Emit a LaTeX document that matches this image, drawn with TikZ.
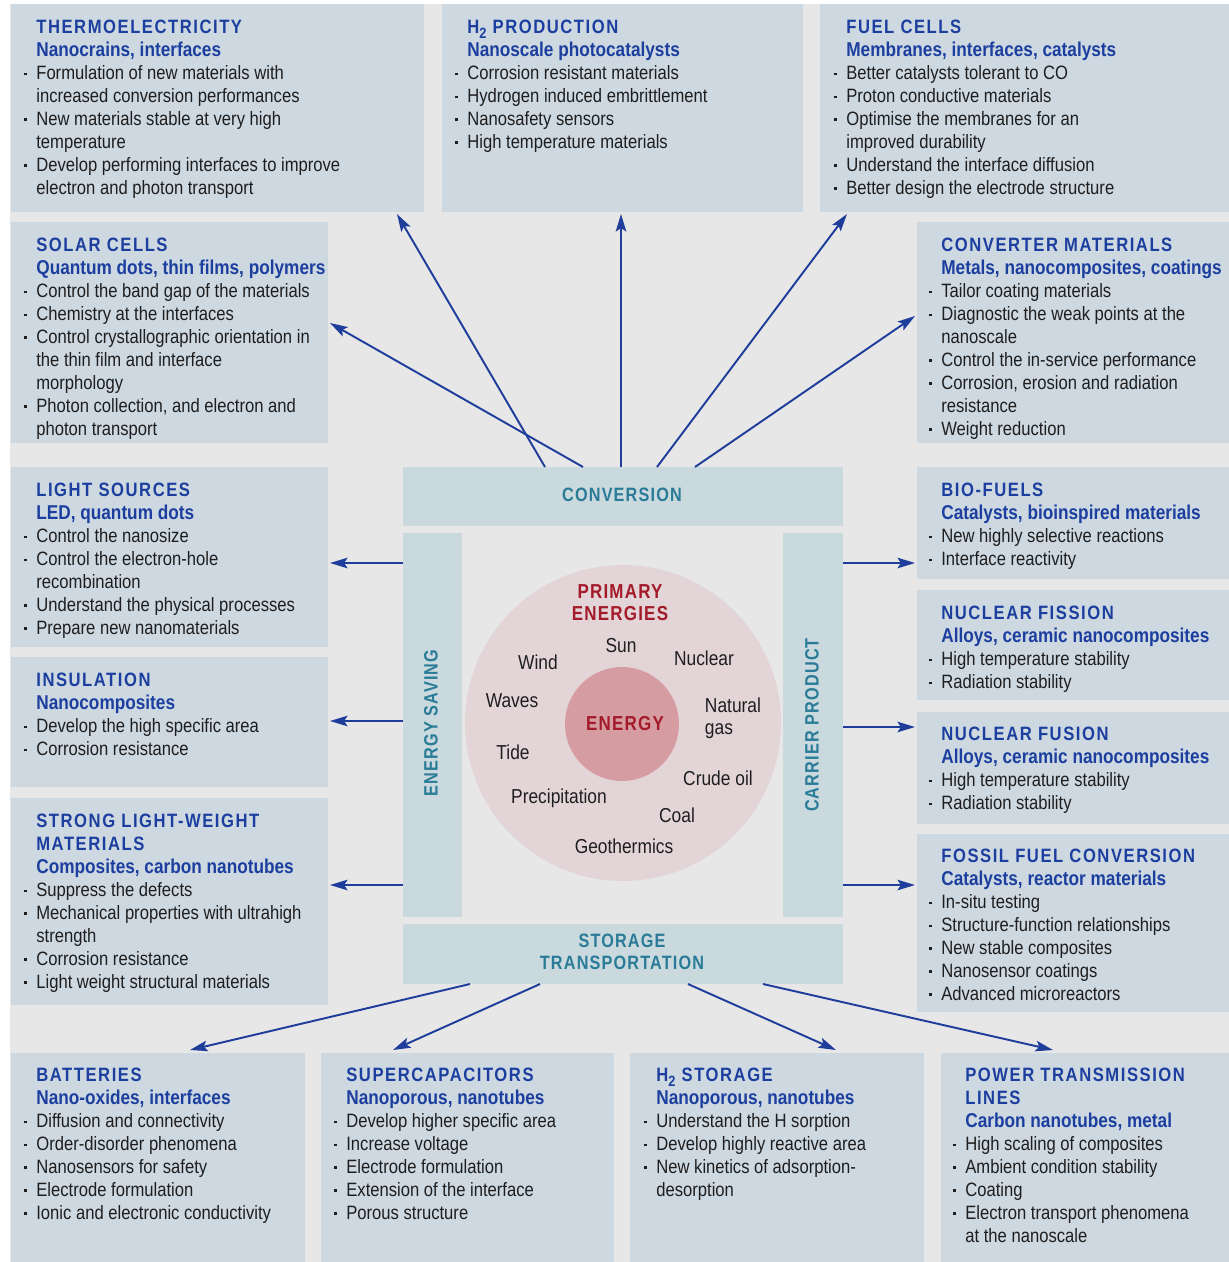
\documentclass[tikz,border=0pt]{standalone}
\usepackage{fontspec}
\setmainfont[FakeStretch=0.86]{Liberation Sans}
\newfontfamily\capsfont[FakeStretch=0.86,LetterSpace=8]{Liberation Sans}
\newfontfamily\bandfont[FakeStretch=0.84,LetterSpace=6]{Liberation Sans}
\usetikzlibrary{arrows.meta}

\definecolor{panelgray}{HTML}{E7E7E7}
\definecolor{boxblue}{HTML}{CDD8E1}
\definecolor{barteal}{HTML}{C9D9DD}
\definecolor{titleblue}{HTML}{1C3F9F}
\definecolor{barink}{HTML}{2A7B98}
\definecolor{ringpink}{HTML}{E3D5D7}
\definecolor{corepink}{HTML}{D59CA1}
\definecolor{energyred}{HTML}{A31A2A}
\definecolor{arrowblue}{HTML}{1F3D9B}
\definecolor{bodyink}{HTML}{1E1E1E}

% headings, sub-headings and bullets of the panels
\newcommand{\ttl}[1]{{\capsfont\bfseries\color{titleblue}#1}}
\newcommand{\subttl}[1]{{\fontsize{11.4}{13.04}\selectfont\bfseries\color{titleblue}#1}}
\newcommand{\bul}{\llap{\raisebox{2.4pt}{\rule{1.6pt}{1.6pt}}\hspace{5.6pt}}}
\newcommand{\lowtwo}{\raisebox{-2.6pt}{\fontsize{8.5}{8.5}\selectfont 2}}

\tikzset{
  panel/.style={fill=boxblue},
  band/.style={fill=barteal},
  txt/.style={anchor=north west, inner sep=0pt, align=left,
    font=\fontsize{11}{13.04}\selectfont, text=bodyink},
  bandtxt/.style={inner sep=0pt, align=center,
    font=\bandfont\bfseries\fontsize{11}{12.5}\selectfont, text=barink},
  src/.style={inner sep=0pt, align=left,
    font=\fontsize{11.5}{12.5}\selectfont, text=bodyink},
  redtxt/.style={inner sep=0pt, align=center,
    font=\bandfont\bfseries\fontsize{11.5}{12.5}\selectfont, text=energyred},
  arr/.style={draw=arrowblue, line width=1.1pt,
    -{Stealth[length=10pt,width=6pt,inset=2pt]}}
}

\begin{document}
\begin{tikzpicture}[x=0.02cm, y=-0.02cm]
  \useasboundingbox (0,0) rectangle (1229,1262);
  \fill[white] (0,0) rectangle (1229,1262);
  \fill[panelgray] (10,4) rectangle (1229,1262);

  % panels
  \fill[panel] (11,4) rectangle (424,212);
  \fill[panel] (442,4) rectangle (803,212);
  \fill[panel] (820,4) rectangle (1229,212);
  \fill[panel] (11,222) rectangle (328,443);
  \fill[panel] (917,222) rectangle (1229,443);
  \fill[panel] (11,467) rectangle (328,647);
  \fill[panel] (11,657) rectangle (328,787);
  \fill[panel] (11,798) rectangle (328,1005);
  \fill[panel] (917,467) rectangle (1229,579);
  \fill[panel] (917,590) rectangle (1229,700);
  \fill[panel] (917,712) rectangle (1229,824);
  \fill[panel] (917,834) rectangle (1229,1012);
  \fill[panel] (11,1053) rectangle (305,1262);
  \fill[panel] (321,1053) rectangle (614,1262);
  \fill[panel] (630,1053) rectangle (924,1262);
  \fill[panel] (941,1053) rectangle (1229,1262);

  % the four bands round the centre
  \fill[band] (403,467) rectangle (843,526);
  \fill[band] (403,533) rectangle (462,917);
  \fill[band] (783,533) rectangle (843,917);
  \fill[band] (403,924) rectangle (843,984);
  \node[bandtxt] (conv) at (622,495) {CONVERSION};
  \node[bandtxt, rotate=90] (saving) at (431,723) {ENERGY SAVING};
  \node[bandtxt, rotate=90] (carrier) at (812,725) {CARRIER PRODUCT};
  \node[bandtxt] (storage) at (622,952) {STORAGE\\TRANSPORTATION};

  % primary energies
  \fill[ringpink] (623,723) circle (158);
  \fill[corepink] (622,724) circle (57);
  \node[redtxt] (primary) at (620,603) {PRIMARY\\ENERGIES};
  \node[redtxt] (energy) at (625,724) {ENERGY};
  \node[src] (sun) at (621,646) {Sun};
  \node[src] (wind) at (538,662) {Wind};
  \node[src] (nuclear) at (704,658) {Nuclear};
  \node[src] (waves) at (512,701) {Waves};
  \node[src] (gas) at (733,718) {Natural\\gas};
  \node[src] (tide) at (513,752) {Tide};
  \node[src] (crude) at (718,778) {Crude oil};
  \node[src] (precip) at (559,798) {Precipitation};
  \node[src] (coal) at (677,815) {Coal};
  \node[src] (geo) at (624,846) {Geothermics};

  % top row
  \node[txt] (thermo) at (36,20) {\ttl{THERMOELECTRICITY}\\
    \subttl{Nanocrains, interfaces}\\
    \bul Formulation of new materials with\\
    increased conversion performances\\
    \bul New materials stable at very high\\
    temperature\\
    \bul Develop performing interfaces to improve\\
    electron and photon transport};
  \node[txt] (htwo) at (467,20) {\ttl{H\lowtwo{} PRODUCTION}\\
    \subttl{Nanoscale photocatalysts}\\
    \bul Corrosion resistant materials\\
    \bul Hydrogen induced embrittlement\\
    \bul Nanosafety sensors\\
    \bul High temperature materials};
  \node[txt] (fuel) at (846,20) {\ttl{FUEL CELLS}\\
    \subttl{Membranes, interfaces, catalysts}\\
    \bul Better catalysts tolerant to CO\\
    \bul Proton conductive materials\\
    \bul Optimise the membranes for an\\
    improved durability\\
    \bul Understand the interface diffusion\\
    \bul Better design the electrode structure};

  % second row
  \node[txt] (solar) at (36,238) {\ttl{SOLAR CELLS}\\
    \subttl{Quantum dots, thin films, polymers}\\
    \bul Control the band gap of the materials\\
    \bul Chemistry at the interfaces\\
    \bul Control crystallographic orientation in\\
    the thin film and interface\\
    morphology\\
    \bul Photon collection, and electron and\\
    photon transport};
  \node[txt] (convmat) at (941,238) {\ttl{CONVERTER MATERIALS}\\
    \subttl{Metals, nanocomposites, coatings}\\
    \bul Tailor coating materials\\
    \bul Diagnostic the weak points at the\\
    nanoscale\\
    \bul Control the in-service performance\\
    \bul Corrosion, erosion and radiation\\
    resistance\\
    \bul Weight reduction};

  % left column
  \node[txt] (light) at (36,483) {\ttl{LIGHT SOURCES}\\
    \subttl{LED, quantum dots}\\
    \bul Control the nanosize\\
    \bul Control the electron-hole\\
    recombination\\
    \bul Understand the physical processes\\
    \bul Prepare new nanomaterials};
  \node[txt] (insul) at (36,673) {\ttl{INSULATION}\\
    \subttl{Nanocomposites}\\
    \bul Develop the high specific area\\
    \bul Corrosion resistance};
  \node[txt] (strong) at (36,814) {\ttl{STRONG LIGHT-WEIGHT}\\
    \ttl{MATERIALS}\\
    \subttl{Composites, carbon nanotubes}\\
    \bul Suppress the defects\\
    \bul Mechanical properties with ultrahigh\\
    strength\\
    \bul Corrosion resistance\\
    \bul Light weight structural materials};

  % right column
  \node[txt] (bio) at (941,483) {\ttl{BIO-FUELS}\\
    \subttl{Catalysts, bioinspired materials}\\
    \bul New highly selective reactions\\
    \bul Interface reactivity};
  \node[txt] (fission) at (941,606) {\ttl{NUCLEAR FISSION}\\
    \subttl{Alloys, ceramic nanocomposites}\\
    \bul High temperature stability\\
    \bul Radiation stability};
  \node[txt] (fusion) at (941,727) {\ttl{NUCLEAR FUSION}\\
    \subttl{Alloys, ceramic nanocomposites}\\
    \bul High temperature stability\\
    \bul Radiation stability};
  \node[txt] (fossil) at (941,849) {\ttl{FOSSIL FUEL CONVERSION}\\
    \subttl{Catalysts, reactor materials}\\
    \bul In-situ testing\\
    \bul Structure-function relationships\\
    \bul New stable composites\\
    \bul Nanosensor coatings\\
    \bul Advanced microreactors};

  % bottom row
  \node[txt] (batt) at (36,1068) {\ttl{BATTERIES}\\
    \subttl{Nano-oxides, interfaces}\\
    \bul Diffusion and connectivity\\
    \bul Order-disorder phenomena\\
    \bul Nanosensors for safety\\
    \bul Electrode formulation\\
    \bul Ionic and electronic conductivity};
  \node[txt] (supcap) at (346,1068) {\ttl{SUPERCAPACITORS}\\
    \subttl{Nanoporous, nanotubes}\\
    \bul Develop higher specific area\\
    \bul Increase voltage\\
    \bul Electrode formulation\\
    \bul Extension of the interface\\
    \bul Porous structure};
  \node[txt] (hstore) at (656,1068) {\ttl{H\lowtwo{} STORAGE}\\
    \subttl{Nanoporous, nanotubes}\\
    \bul Understand the H sorption\\
    \bul Develop highly reactive area\\
    \bul New kinetics of adsorption-\\
    desorption};
  \node[txt] (power) at (965,1068) {\ttl{POWER TRANSMISSION}\\
    \ttl{LINES}\\
    \subttl{Carbon nanotubes, metal}\\
    \bul High scaling of composites\\
    \bul Ambient condition stability\\
    \bul Coating\\
    \bul Electron transport phenomena\\
    at the nanoscale};

  % arrow ends on the bands and at the panels
  \coordinate (conv-a) at (545,467);
  \coordinate (conv-b) at (583,467);
  \coordinate (conv-c) at (621,467);
  \coordinate (conv-d) at (657,467);
  \coordinate (conv-e) at (695,467);
  \coordinate (thermo-in) at (397,214);
  \coordinate (solar-in) at (330,323);
  \coordinate (htwo-in) at (621,214);
  \coordinate (fuel-in) at (847,214);
  \coordinate (convmat-in) at (915,316);
  \coordinate (sav-a) at (403,563);
  \coordinate (sav-b) at (403,721);
  \coordinate (sav-c) at (403,885);
  \coordinate (light-in) at (330,563);
  \coordinate (insul-in) at (330,721);
  \coordinate (strong-in) at (330,885);
  \coordinate (car-a) at (843,563);
  \coordinate (car-b) at (843,727);
  \coordinate (car-c) at (843,885);
  \coordinate (bio-in) at (915,563);
  \coordinate (fusion-in) at (915,727);
  \coordinate (fossil-in) at (915,885);
  \coordinate (sto-a) at (470,984);
  \coordinate (sto-b) at (540,984);
  \coordinate (sto-c) at (688,984);
  \coordinate (sto-d) at (763,984);
  \coordinate (batt-in) at (190,1050);
  \coordinate (supcap-in) at (393,1050);
  \coordinate (hstore-in) at (836,1050);
  \coordinate (power-in) at (1053,1050);

  \draw[arr] (conv-a) -- (thermo-in);
  \draw[arr] (conv-b) -- (solar-in);
  \draw[arr] (conv-c) -- (htwo-in);
  \draw[arr] (conv-d) -- (fuel-in);
  \draw[arr] (conv-e) -- (convmat-in);
  \draw[arr] (sav-a) -- (light-in);
  \draw[arr] (sav-b) -- (insul-in);
  \draw[arr] (sav-c) -- (strong-in);
  \draw[arr] (car-a) -- (bio-in);
  \draw[arr] (car-b) -- (fusion-in);
  \draw[arr] (car-c) -- (fossil-in);
  \draw[arr] (sto-a) -- (batt-in);
  \draw[arr] (sto-b) -- (supcap-in);
  \draw[arr] (sto-c) -- (hstore-in);
  \draw[arr] (sto-d) -- (power-in);
\end{tikzpicture}
\end{document}
